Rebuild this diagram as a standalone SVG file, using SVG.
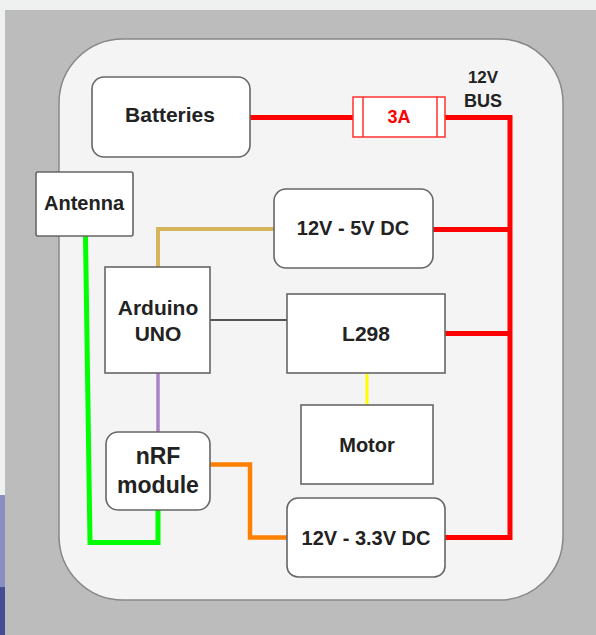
<svg xmlns="http://www.w3.org/2000/svg" width="596" height="635" viewBox="0 0 596 635">
<style>
.box{fill:#ffffff;stroke:#666666;stroke-width:1.6}
.t{font-family:"Liberation Sans",Arial,sans-serif;font-weight:bold;fill:#222222;text-anchor:middle}
.w{fill:none;stroke-linejoin:miter;stroke-linecap:butt}
</style>
<rect x="0" y="0" width="596" height="635" fill="#eff1f1"/>
<rect x="5" y="10" width="591" height="625" fill="#bcbcbc"/>
<rect x="0" y="495" width="5" height="92" fill="#8b8ec3"/>
<rect x="0" y="587" width="5" height="48" fill="#474c96"/>
<rect x="59" y="39" width="504" height="561" rx="64" ry="64" fill="#f4f4f4" stroke="#888888" stroke-width="1.5"/>
<g id="connectors">
<path class="w" d="M250 117.5H353M445 117.5H510V537.5H445" stroke="#ff0000" stroke-width="5"/>
<path class="w" d="M433 229.5H510M445 333.5H510" stroke="#ff0000" stroke-width="5"/>
<path class="w" d="M158 267V229H274" stroke="#d6b45e" stroke-width="4"/>
<path class="w" d="M210 320H287" stroke="#555555" stroke-width="2"/>
<path class="w" d="M367 373V405" stroke="#ffff00" stroke-width="3"/>
<path class="w" d="M158 373V432" stroke="#a884c6" stroke-width="3.5"/>
<path class="w" d="M210 464.5H250V537.5H287" stroke="#ff8000" stroke-width="4.5"/>
<path class="w" d="M85.5 236L90 542.5H158V510" stroke="#00ff00" stroke-width="5"/>
</g>
<g id="batteries">
<rect class="box" x="92" y="77" width="158" height="80" rx="12"/>
<text class="t" x="170" y="122" font-size="21">Batteries</text>
</g>
<g id="fuse">
<rect x="353" y="97" width="92" height="40" fill="#ffffff" stroke="#ff3030" stroke-width="1.5"/>
<path d="M363 97V137M437 97V137" stroke="#ff3030" stroke-width="1.5"/>
<text class="t" x="399" y="123" font-size="18" style="fill:#ff0000">3A</text>
</g>
<g id="bus-label">
<text class="t" x="483" y="83" font-size="17">12V</text>
<text class="t" x="483" y="107" font-size="18">BUS</text>
</g>
<g id="antenna">
<rect class="box" x="36" y="172" width="97" height="64" rx="2"/>
<text class="t" x="84" y="210" font-size="20">Antenna</text>
</g>
<g id="dc5">
<rect class="box" x="274" y="189" width="159" height="79" rx="12"/>
<text class="t" x="353" y="235" font-size="20">12V - 5V DC</text>
</g>
<g id="arduino">
<rect class="box" x="105" y="267" width="105" height="106"/>
<text class="t" x="158" y="315" font-size="21">Arduino</text>
<text class="t" x="158" y="341" font-size="21">UNO</text>
</g>
<g id="l298">
<rect class="box" x="287" y="294" width="158" height="79"/>
<text class="t" x="366" y="341" font-size="21">L298</text>
</g>
<g id="motor">
<rect class="box" x="301" y="405" width="132" height="79"/>
<text class="t" x="367" y="452" font-size="20">Motor</text>
</g>
<g id="nrf">
<rect class="box" x="106" y="432" width="104" height="78" rx="12"/>
<text class="t" x="158" y="464" font-size="23">nRF</text>
<text class="t" x="158" y="493" font-size="23">module</text>
</g>
<g id="dc33">
<rect class="box" x="287" y="498" width="158" height="79" rx="11"/>
<text class="t" x="366" y="545" font-size="20">12V - 3.3V DC</text>
</g>
</svg>
